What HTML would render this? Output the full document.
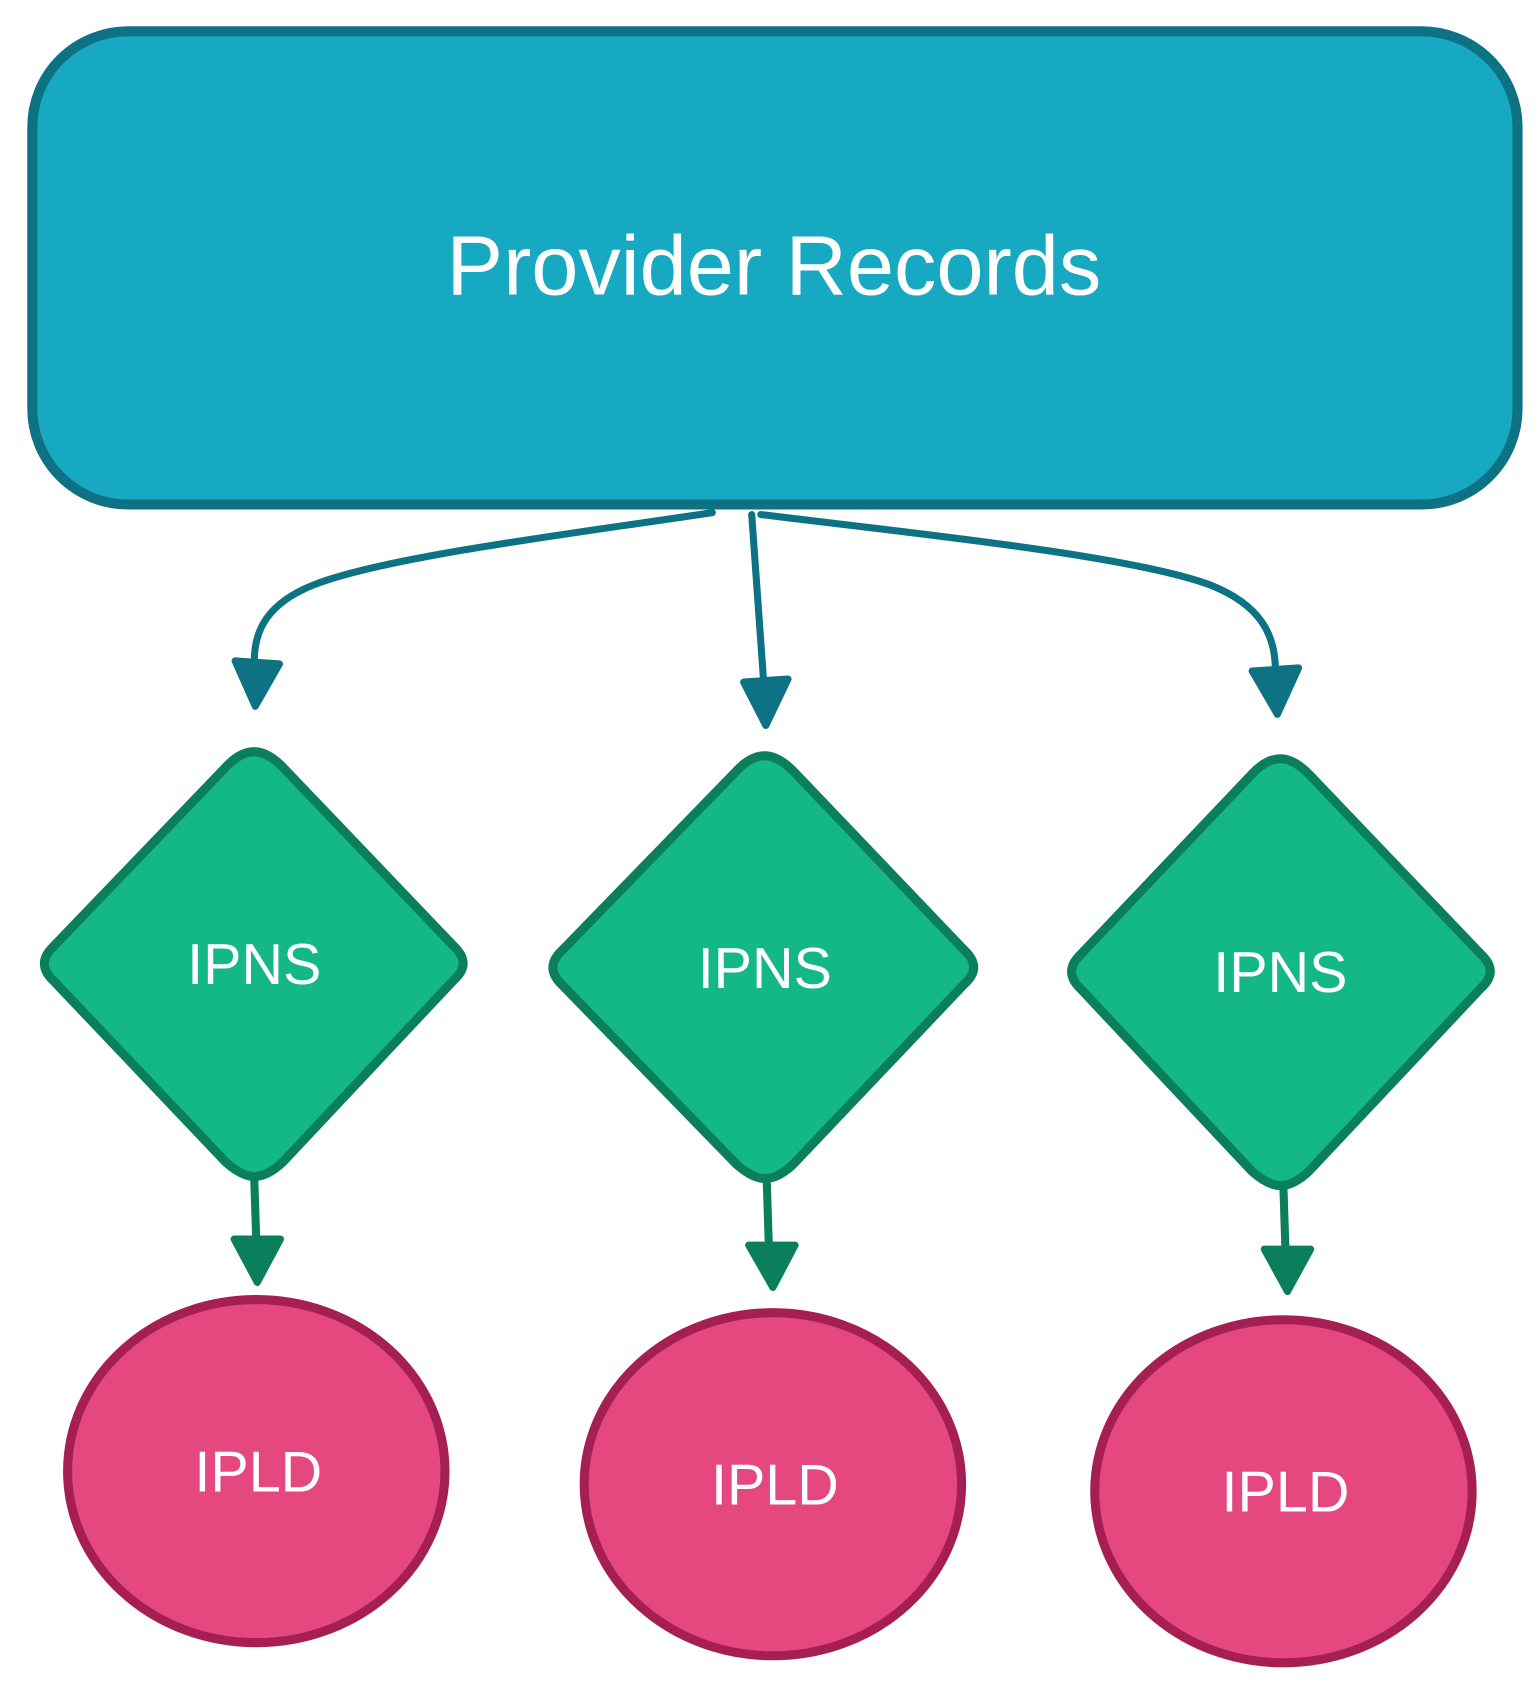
<!DOCTYPE html>
<html><head><style>html,body{margin:0;padding:0;background:#fff}</style></head>
<body>
<svg width="1540" height="1685" viewBox="0 0 1540 1685" xmlns="http://www.w3.org/2000/svg" font-family="Liberation Sans, Arial, sans-serif">
<g transform="scale(1.009)">
<rect x="32" y="31" width="1472" height="469" rx="95" ry="95" fill="#17a9c1" stroke="#0e7285" stroke-width="10"/>
<text x="767" y="292" font-size="84" fill="#fff" text-anchor="middle">Provider Records</text>
<g fill="none" stroke="#0e7285" stroke-width="7" stroke-linecap="round">
<path d="M745 510 L757 678"/>
<path d="M706 508 C560 530 380 552 310 580 C265 598 252 625 252 655"/>
<path d="M754 510 C900 528 1120 550 1200 580 C1250 600 1264 630 1264 664"/>
</g>
<g fill="#0e7285" stroke="#0e7285" stroke-width="7" stroke-linejoin="round">
<polygon points="233,655 277,658 253,700"/>
<polygon points="737,676 781,673 759,719"/>
<polygon points="1241,665 1287,662 1266,708"/>
</g>
<g fill="#14b886" stroke="#0b7f5c" stroke-width="9" stroke-linejoin="round">
<path d="M252 745 Q265 745 280 760 L450 938 Q468 955 450 971 L280 1152 Q265 1166 252 1166 Q240 1166 224 1152 L53 972 Q35 955 53 938 L224 760 Q238 745 252 745Z"/>
<path d="M758 749 Q771 749 786 764 L956 942 Q974 959 956 975 L786 1154 Q771 1168 758 1168 Q746 1168 730 1154 L557 976 Q539 959 557 942 L730 764 Q744 749 758 749Z"/>
<path d="M1269 752 Q1282 752 1297 767 L1468 946 Q1486 963 1468 979 L1297 1161 Q1282 1175 1269 1175 Q1257 1175 1241 1161 L1071 980 Q1053 963 1071 946 L1241 767 Q1255 752 1269 752Z"/>
</g>
<g fill="#fff" font-size="57" text-anchor="middle">
<text x="252" y="975">IPNS</text>
<text x="758" y="979">IPNS</text>
<text x="1269" y="983">IPNS</text>
</g>
<g stroke="#0b7f5c" stroke-width="8" stroke-linecap="round">
<line x1="252" y1="1169" x2="254" y2="1230"/>
<line x1="760" y1="1173" x2="762" y2="1236"/>
<line x1="1272" y1="1177" x2="1274" y2="1240"/>
</g>
<g fill="#0b7f5c" stroke="#0b7f5c" stroke-width="7" stroke-linejoin="round">
<polygon points="232,1228 278,1228 255,1271"/>
<polygon points="742,1234 788,1234 766,1276"/>
<polygon points="1253,1238 1299,1238 1276,1280"/>
</g>
<g fill="#e5487f" stroke="#a61f52" stroke-width="9">
<ellipse cx="254" cy="1458" rx="187" ry="170"/>
<ellipse cx="766" cy="1471" rx="187" ry="170"/>
<ellipse cx="1272" cy="1478" rx="187" ry="170"/>
</g>
<g fill="#fff" font-size="57" text-anchor="middle">
<text x="256" y="1478">IPLD</text>
<text x="768" y="1491">IPLD</text>
<text x="1274" y="1498">IPLD</text>
</g>
</g>
</svg>
</body></html>
